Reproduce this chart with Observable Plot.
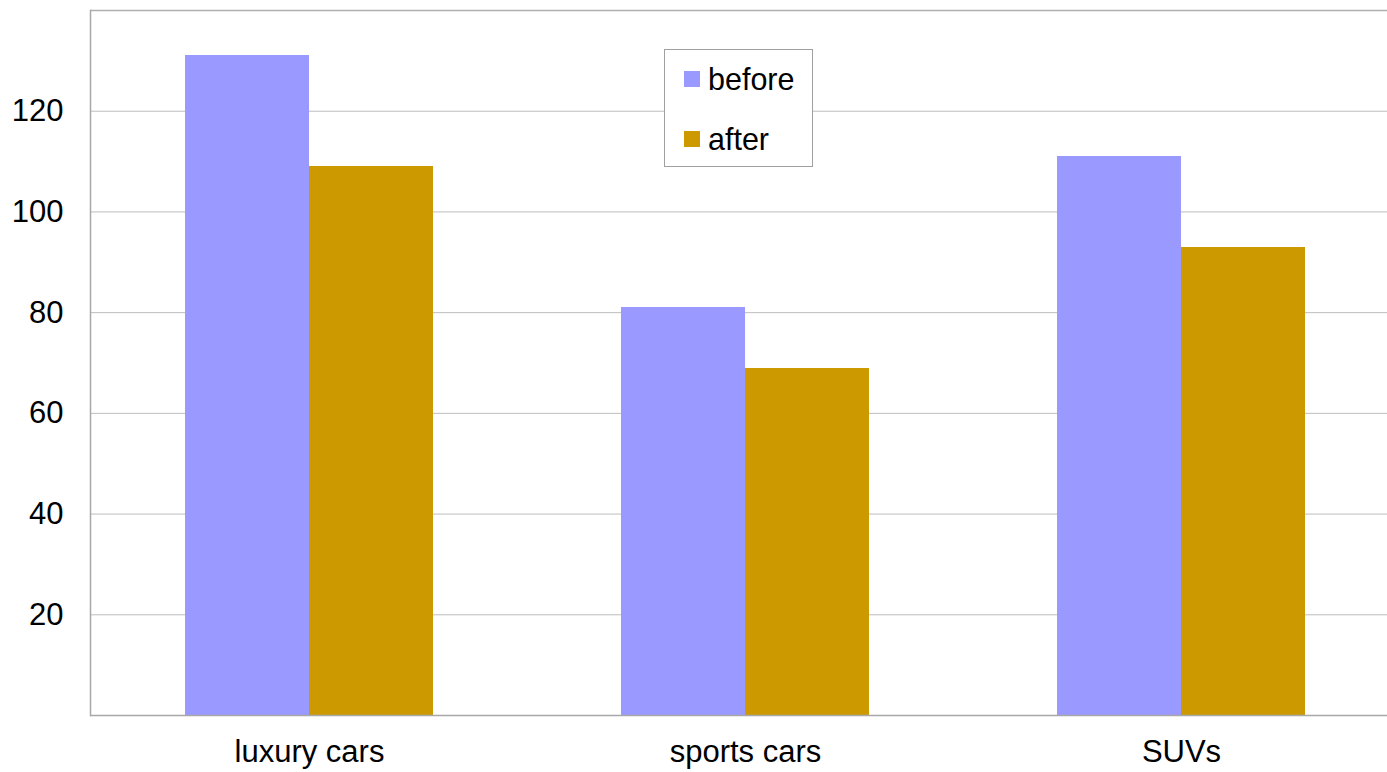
<!DOCTYPE html>
<html>
<head>
<meta charset="utf-8">
<script src="https://cdn.jsdelivr.net/npm/d3@7"></script>
<script src="https://cdn.jsdelivr.net/npm/@observablehq/plot@0.6"></script>
<style>
  html, body { margin: 0; padding: 0; background: #fff; }
  #wrap { position: relative; width: 1387px; height: 772px; overflow: hidden; font-family: "Liberation Sans", Arial, sans-serif; }
  #wrap svg { display: block; }
  .legend {
    position: absolute; left: 664px; top: 49px; width: 147px; height: 116px;
    border: 1px solid #a0a0a0; background: #fff; box-sizing: content-box;
  }
  .legend .item { position: absolute; left: 19px; display: flex; align-items: center; font-size: 30.5px; color: #000; line-height: 1; }
  .legend .swatch { width: 16px; height: 16px; margin-right: 8px; }
</style>
</head>
<body>
<div id="wrap"></div>
<script>
// Vehicle categories and the two measured series
const categories = ["luxury cars", "sports cars", "SUVs"];
const series = ["before", "after"];
const beforeValues = [131, 81, 111];
const afterValues = [109, 69, 93];
const yTicks = [20, 40, 60, 80, 100, 120];
const yMax = 140;
const seriesColors = ["#9999ff", "#cc9900"];

// Long-format table for grouped bars
const rows = [];
categories.forEach((c, i) => {
  rows.push({category: c, series: "before", value: beforeValues[i]});
  rows.push({category: c, series: "after", value: afterValues[i]});
});

// Category band scale; each band is split evenly among the series
const xOptions = {type: "band", domain: categories, range: [90, 1400], paddingInner: 0.431, paddingOuter: 0.2156};
const bandwidth = Plot.scale({x: xOptions}).bandwidth;
const slot = bandwidth / series.length;

const barMarks = series.map((s, j) =>
  Plot.barY(rows.filter(d => d.series === s), {
    x: "category",
    y: "value",
    fill: "series",
    insetLeft: j * slot,
    insetRight: (series.length - 1 - j) * slot,
    shapeRendering: "crispEdges"
  })
);

const chart = Plot.plot({
  width: 1387,
  height: 772,
  marginTop: 10,
  marginBottom: 57,
  marginLeft: 90,
  marginRight: 0,
  style: {fontFamily: "'Liberation Sans', Arial, sans-serif", fontSize: "31px", color: "#000", background: "#fff"},
  x: {...xOptions, label: null},
  y: {domain: [0, yMax], label: null},
  color: {domain: series, range: seriesColors},
  marks: [
    Plot.ruleY(yTicks, {stroke: "#bdbdbd", strokeWidth: 1}),
    Plot.ruleY([yMax], {stroke: "#b0b0b0", strokeWidth: 1.5}),
    ...barMarks,
    Plot.ruleY([0], {stroke: "#a8a8a8", strokeWidth: 1.5}),
    Plot.frame({anchor: "left", stroke: "#a8a8a8", strokeWidth: 1.5}),
    Plot.axisY({ticks: yTicks, tickSize: 0, tickPadding: 27, fontSize: 31, label: null}),
    Plot.axisX({anchor: "bottom", tickSize: 0, tickPadding: 24, fontSize: 31, label: null})
  ]
});

const wrap = document.getElementById("wrap");
wrap.appendChild(chart);

// Legend box drawn over the plot area
const legend = document.createElement("div");
legend.className = "legend";
series.forEach((s, i) => {
  const item = document.createElement("div");
  item.className = "item";
  item.style.top = (i === 0 ? 14 : 74) + "px";
  const sw = document.createElement("span");
  sw.className = "swatch";
  sw.style.background = seriesColors[i];
  const label = document.createElement("span");
  label.textContent = s;
  item.appendChild(sw);
  item.appendChild(label);
  legend.appendChild(item);
});
wrap.appendChild(legend);
</script>
</body>
</html>
